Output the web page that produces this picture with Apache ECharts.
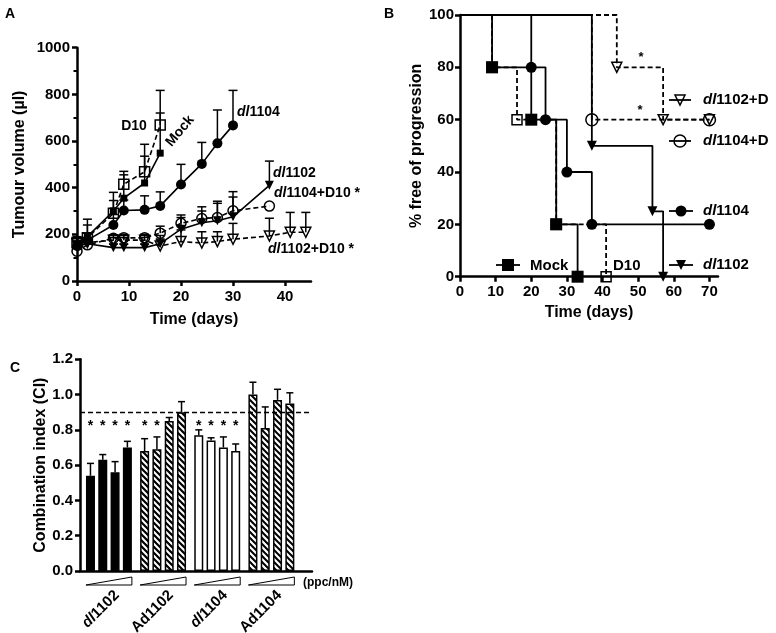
<!DOCTYPE html>
<html>
<head>
<meta charset="utf-8">
<script src="https://cdn.jsdelivr.net/npm/echarts@6.0.0/dist/echarts.min.js"></script>
<style>
html,body{margin:0;padding:0;background:#fff;}
#chart{width:776px;height:633px;}
</style>
</head>
<body>
<div id="chart"></div>
<script>
// ================= Panel A : tumour volume (µl) vs time (days) =================
const aDaysMock = [0, 2, 7, 9, 13, 16];
const aMock = [160, 190, 300, 355, 420, 548];
const aMockErr = [25, 75, 45, 100, 115, 172];

const aDaysD10 = [0, 2, 7, 9, 13, 16];
const aD10 = [165, 185, 290, 415, 468, 669];
const aD10Err = [25, 55, 90, 55, 118, 148];

const aDaysDl1104 = [0, 2, 7, 9, 13, 16, 20, 24, 27, 30];
const aDl1104 = [150, 175, 240, 302, 305, 322, 414, 502, 590, 667];
const aDl1104Err = [20, 30, 45, 45, 60, 60, 86, 92, 143, 150];

const aDaysDl1102 = [0, 2, 7, 9, 13, 16, 20, 24, 27, 30, 37];
const aDl1102 = [150, 160, 143, 143, 143, 160, 222, 250, 258, 275, 410];
const aDl1102Err = [15, 20, 15, 15, 15, 20, 50, 50, 75, 85, 104];

const aDaysDl1104D10 = [0, 2, 7, 9, 13, 16, 20, 24, 27, 30, 37];
const aDl1104D10 = [128, 155, 183, 185, 185, 205, 247, 268, 272, 301, 321];
const aDl1104D10Err = [15, 15, 15, 15, 15, 30, 36, 50, 70, 82, 0];

const aDaysDl1102D10 = [0, 2, 7, 9, 13, 16, 20, 24, 27, 30, 37, 41, 44];
const aDl1102D10 = [160, 165, 175, 175, 175, 150, 169, 163, 169, 179, 193, 209, 209];
const aDl1102D10Err = [10, 10, 12, 12, 12, 45, 50, 48, 42, 68, 76, 85, 85];

const aXTicks = [0, 10, 20, 30, 40];

// ================= Panel B : % free of progression (Kaplan-Meier) =================
const bMockT = [0, 9, 20, 27, 33];
const bMockS = [100, 80, 60, 20, 0];
const bD10T = [0, 9, 16, 27, 41];
const bD10S = [100, 80, 60, 20, 0];
const bDl1104T = [0, 20, 24, 30, 37, 70];
const bDl1104S = [100, 80, 60, 40, 20, 20];
const bDl1102T = [0, 37, 54, 57];
const bDl1102S = [100, 50, 25, 0];
const bDl1104D10T = [0, 37, 70];
const bDl1104D10S = [100, 60, 60];
const bDl1102D10T = [0, 44, 57, 70];
const bDl1102D10S = [100, 80, 60, 60];
const bXTicks = [0, 10, 20, 30, 40, 50, 60, 70];

// ================= Panel C : combination index =================
const cGroups = ['dl1102', 'Ad1102', 'dl1104', 'Ad1104'];
const cDl1102 = [0.54, 0.63, 0.56, 0.70];
const cDl1102Err = [0.07, 0.03, 0.06, 0.035];
const cAd1102 = [0.68, 0.69, 0.85, 0.90];
const cAd1102Err = [0.07, 0.07, 0.02, 0.06];
const cDl1104 = [0.77, 0.74, 0.70, 0.68];
const cDl1104Err = [0.03, 0.015, 0.06, 0.04];
const cAd1104 = [1.00, 0.81, 0.97, 0.95];
const cAd1104Err = [0.07, 0.12, 0.06, 0.06];
const cSigDl1102 = [1, 1, 1, 1];
const cSigAd1102 = [1, 1, 0, 0];
const cSigDl1104 = [1, 1, 1, 1];
const cSigAd1104 = [0, 0, 0, 0];
const cThreshold = 0.9;
const cSigLevel = 0.82;

// ---------------------------------------------------------------------------
const FONT = '"Liberation Sans", Arial, Helvetica, sans-serif';
const lbl = {color: '#000', fontFamily: FONT, fontWeight: 'bold', fontSize: 15};

function hatch(bg, fg) {
  const s = 6;
  const c = document.createElement('canvas');
  c.width = s; c.height = s;
  const x = c.getContext('2d');
  x.fillStyle = bg; x.fillRect(0, 0, s, s);
  x.strokeStyle = fg; x.lineWidth = 2;
  x.beginPath();
  x.moveTo(-1, -1); x.lineTo(s + 1, s + 1);
  x.moveTo(-1, s - 1); x.lineTo(1, s + 1);
  x.moveTo(s - 1, -1); x.lineTo(s + 1, 1);
  x.stroke();
  return c;
}
const cFills = ['#000', {image: hatch('#000', '#fff'), repeat: 'repeat'}, '#fff', {image: hatch('#fff', '#000'), repeat: 'repeat'}];
const cVals = [cDl1102, cAd1102, cDl1104, cAd1104];
const cErrs = [cDl1102Err, cAd1102Err, cDl1104Err, cAd1104Err];
const cSigs = [cSigDl1102, cSigAd1102, cSigDl1104, cSigAd1104];
const xPos = (g, i) => g * 4.4 + i;   // bar slot layout along panel C axis

function errRender(half, lw) {
  return function (params, api) {
    const x = api.value(0), y = api.value(1), e = api.value(2);
    if (!e) return {type: 'group', children: []};
    const a = api.coord([x, y]), b = api.coord([x, y + e]);
    return {type: 'group', children: [
      {type: 'line', shape: {x1: a[0], y1: a[1], x2: b[0], y2: b[1]}, style: {stroke: '#000', lineWidth: lw}},
      {type: 'line', shape: {x1: b[0] - half, y1: b[1], x2: b[0] + half, y2: b[1]}, style: {stroke: '#000', lineWidth: lw}}
    ]};
  };
}
const zip3 = (d, v, e) => d.map((x, i) => [x, v[i], e[i]]);

function lineA(name, days, vals, symbol, size, filled, dashed, rotate) {
  return {
    type: 'line', name, xAxisIndex: 0, yAxisIndex: 0,
    data: days.map((d, i) => [d, vals[i]]),
    symbol, symbolSize: size, symbolRotate: rotate || 0, showAllSymbol: true,
    lineStyle: {color: '#000', width: 1.6, type: dashed ? [5, 3] : 'solid'},
    itemStyle: {color: filled ? '#000' : 'rgba(255,255,255,0)', borderColor: '#000', borderWidth: filled ? 0 : 1.5},
    z: 3, silent: true
  };
}
function kmB(name, t, s, symbol, size, filled, dashed, rotate) {
  return {
    type: 'line', name, xAxisIndex: 1, yAxisIndex: 1, step: 'end',
    data: t.map((x, i) => i === 0 ? {value: [x, s[i]], symbol: 'none'} : [x, s[i]]),
    symbol, symbolSize: size, symbolRotate: rotate || 0, showAllSymbol: true,
    lineStyle: {color: '#000', width: 1.8, type: dashed ? [5, 3] : 'solid'},
    itemStyle: {color: filled ? '#000' : 'rgba(255,255,255,0)', borderColor: '#000', borderWidth: filled ? 0 : 1.5},
    z: 3, silent: true
  };
}

const aErrData = [].concat(
  zip3(aDaysMock, aMock, aMockErr), zip3(aDaysD10, aD10, aD10Err),
  zip3(aDaysDl1104, aDl1104, aDl1104Err), zip3(aDaysDl1102, aDl1102, aDl1102Err),
  zip3(aDaysDl1104D10, aDl1104D10, aDl1104D10Err), zip3(aDaysDl1102D10, aDl1102D10, aDl1102D10Err));

const barData = [], cErrData = [], sigData = [];
cVals.forEach((arr, g) => arr.forEach((v, i) => {
  barData.push({value: [xPos(g, i), v], itemStyle: {color: cFills[g]}});
  cErrData.push([xPos(g, i), v, cErrs[g][i]]);
  if (cSigs[g][i]) sigData.push([xPos(g, i), cSigLevel]);
}));
const groupData = cGroups.map((n, g) => [xPos(g, 0), xPos(g, 3), g]);

const axLine = w => ({show: true, onZero: false, lineStyle: {color: '#000', width: w}});
const tick = (len, w, cv) => ({show: true, length: len, customValues: cv, lineStyle: {color: '#000', width: w}});

const option = {
  animation: false,
  backgroundColor: '#fff',
  grid: [
    {left: 77, top: 47.7, width: 234, height: 233.3},
    {left: 460, top: 15, width: 258, height: 261.7},
    {left: 80, top: 359.3, width: 232, height: 211.7}
  ],
  xAxis: [
    {gridIndex: 0, type: 'value', min: 0, max: 45, interval: 10, axisLine: axLine(2.5),
     axisTick: tick(5, 2.5, aXTicks), axisLabel: Object.assign({}, lbl, {margin: 8, customValues: aXTicks}),
     splitLine: {show: false}, name: 'Time (days)', nameLocation: 'middle', nameGap: 31,
     nameTextStyle: Object.assign({}, lbl, {fontSize: 16})},
    {gridIndex: 1, type: 'value', min: 0, max: 72.4, interval: 10, axisLine: axLine(2.5),
     axisTick: tick(5, 2.5, bXTicks), axisLabel: Object.assign({}, lbl, {margin: 8, customValues: bXTicks}),
     splitLine: {show: false}, name: 'Time (days)', nameLocation: 'middle', nameGap: 28,
     nameTextStyle: Object.assign({}, lbl, {fontSize: 16})},
    {gridIndex: 2, type: 'value', min: -0.85, max: 18.0, axisLine: axLine(2.5),
     axisTick: {show: false}, axisLabel: {show: false}, splitLine: {show: false}}
  ],
  yAxis: [
    {gridIndex: 0, type: 'value', min: 0, max: 1000, interval: 200, axisLine: axLine(2.5),
     axisTick: {show: true, length: 5, lineStyle: {color: '#000', width: 2.5}},
     minorTick: {show: true, splitNumber: 2, length: 3.5, lineStyle: {color: '#000', width: 2}},
     axisLabel: Object.assign({}, lbl, {margin: 7, formatter: v => String(v)}), splitLine: {show: false}, minorSplitLine: {show: false},
     name: 'Tumour volume (µl)', nameLocation: 'middle', nameGap: 49, nameRotate: 90,
     nameTextStyle: Object.assign({}, lbl, {fontSize: 16})},
    {gridIndex: 1, type: 'value', min: 0, max: 100, interval: 20, axisLine: axLine(2.5),
     axisTick: {show: true, length: 5, lineStyle: {color: '#000', width: 2.5}},
     axisLabel: Object.assign({}, lbl, {margin: 6}), splitLine: {show: false},
     name: '% free of progression', nameLocation: 'middle', nameGap: 33, nameRotate: 90,
     nameTextStyle: Object.assign({}, lbl, {fontSize: 16})},
    {gridIndex: 2, type: 'value', min: 0, max: 1.2, interval: 0.2, axisLine: axLine(2.5),
     axisTick: {show: true, length: 5, lineStyle: {color: '#000', width: 2.5}},
     axisLabel: Object.assign({}, lbl, {margin: 7, formatter: v => v.toFixed(1)}), splitLine: {show: false},
     name: 'Combination index (CI)', nameLocation: 'middle', nameGap: 29, nameRotate: 90,
     nameTextStyle: Object.assign({}, lbl, {fontSize: 16})}
  ],
  series: [
    // ---- Panel A
    {type: 'custom', xAxisIndex: 0, yAxisIndex: 0, data: aErrData, renderItem: errRender(4.5, 1.5), clip: false, silent: true, z: 1},
    lineA('D10', aDaysD10, aD10, 'rect', 10, false, true),
    lineA('dl1104+D10', aDaysDl1104D10, aDl1104D10, 'circle', 10, false, true),
    lineA('dl1102+D10', aDaysDl1102D10, aDl1102D10, 'triangle', 10, false, true, 180),
    lineA('Mock', aDaysMock, aMock, 'rect', 7, true, false),
    lineA('dl1104', aDaysDl1104, aDl1104, 'circle', 10, true, false),
    lineA('dl1102', aDaysDl1102, aDl1102, 'triangle', 9, true, false, 180),
    // ---- Panel B
    kmB('D10', bD10T, bD10S, 'rect', 10, false, true),
    kmB('dl1104+D10', bDl1104D10T, bDl1104D10S, 'circle', 12, false, true),
    kmB('dl1102+D10', bDl1102D10T, bDl1102D10S, 'triangle', 10, false, true, 180),
    kmB('Mock', bMockT, bMockS, 'rect', 12, true, false),
    kmB('dl1104', bDl1104T, bDl1104S, 'circle', 11, true, false),
    kmB('dl1102', bDl1102T, bDl1102S, 'triangle', 10, true, false, 180),
    // ---- Panel C
    {type: 'bar', xAxisIndex: 2, yAxisIndex: 2, data: barData, barWidth: 9, silent: true,
     itemStyle: {borderColor: '#000', borderWidth: 1.5},
     markLine: {silent: true, symbol: ['none', 'none'], label: {show: false},
                lineStyle: {color: '#000', type: [5, 3], width: 1.3}, data: [{yAxis: cThreshold}]}},
    {type: 'custom', xAxisIndex: 2, yAxisIndex: 2, data: cErrData, renderItem: errRender(3.5, 1.5), clip: false, silent: true, z: 4},
    {type: 'custom', xAxisIndex: 2, yAxisIndex: 2, data: sigData, clip: false, silent: true, z: 4,
     renderItem: (p, api) => {
       const c = api.coord([api.value(0), api.value(1)]);
       return {type: 'text', x: c[0], y: c[1], style: {text: '*', fill: '#000', fontFamily: FONT, fontWeight: 'bold', fontSize: 14, align: 'center', verticalAlign: 'middle'}};
     }},
    {type: 'custom', xAxisIndex: 2, yAxisIndex: 2, data: groupData, clip: false, silent: true, z: 4,
     renderItem: (p, api) => {
       const a = api.coord([api.value(0), 0]), b = api.coord([api.value(1), 0]);
       const g = api.value(2);
       const L = a[0] - 4.5, R = b[0] + 4.5, y0 = a[1];
       const name = cGroups[g];
       const txt = name.startsWith('dl') ? '{i|dl}{b|' + name.slice(2) + '}' : '{b|' + name + '}';
       return {type: 'group', children: [
         {type: 'polygon', shape: {points: [[L, y0 + 14], [R, y0 + 14], [R, y0 + 6]]}, style: {fill: '#fff', stroke: '#000', lineWidth: 1}},
         {type: 'text', x: (L + R) / 2 + 8, y: y0 + 22, rotation: Math.PI / 4,
          style: {text: txt, align: 'right', verticalAlign: 'middle', fill: '#000',
                  rich: {i: {fontFamily: FONT, fontWeight: 'bold', fontStyle: 'italic', fontSize: 15, fill: '#000'},
                         b: {fontFamily: FONT, fontWeight: 'bold', fontSize: 15, fill: '#000'}}}}
       ]};
     }}
  ],
  graphic: []
};

const richTxt = {
  i: {fontFamily: FONT, fontWeight: 'bold', fontStyle: 'italic', fontSize: 14, fill: '#000'},
  b: {fontFamily: FONT, fontWeight: 'bold', fontSize: 14, fill: '#000'}
};
function gText(x, y, text, opts) {
  opts = opts || {};
  const fs = opts.fs || 14;
  return {type: 'text', x, y, rotation: opts.rot || 0, z: 10,
          style: {text, align: opts.align || 'left', verticalAlign: 'middle', fill: '#000',
                  fontFamily: FONT, fontWeight: 'bold', fontSize: fs,
                  rich: {i: Object.assign({}, richTxt.i, {fontSize: fs}), b: Object.assign({}, richTxt.b, {fontSize: fs})}}};
}
const G = option.graphic;
// panel letters
G.push(gText(10, 14, 'A', {align: 'center'}), gText(389, 14, 'B', {align: 'center'}), gText(15, 368, 'C', {align: 'center'}));
// panel A annotations
G.push(gText(134, 126, 'D10', {align: 'center'}));
G.push(gText(180, 131, 'Mock', {align: 'center', rot: 50 * Math.PI / 180}));
G.push(gText(237, 112, '{i|dl}{b|1104}'));
G.push(gText(273, 173, '{i|dl}{b|1102}'));
G.push(gText(274, 193, '{i|dl}{b|1104+D10 *}'));
G.push(gText(268, 249, '{i|dl}{b|1102+D10 *}'));
// panel B asterisks
G.push(gText(641, 57, '*', {align: 'center', fs: 13}), gText(640, 110, '*', {align: 'center', fs: 13}));
// panel B legend
function legLine(x1, x2, y, dashed) {
  return {type: 'line', z: 10, shape: {x1, y1: y, x2, y2: y}, style: {stroke: '#000', lineWidth: 1.8, lineDash: dashed ? [4, 3] : null}};
}
function downTri(cx, cy, s, filled) {
  return {type: 'polygon', z: 11, shape: {points: [[cx - s / 2, cy - s / 2], [cx + s / 2, cy - s / 2], [cx, cy + s / 2]]},
          style: {fill: filled ? '#000' : 'rgba(255,255,255,0)', stroke: '#000', lineWidth: filled ? 0 : 1.5}};
}
G.push(legLine(669, 691, 100, false), downTri(680, 100, 10, false), gText(703, 100, '{i|dl}{b|1102+D}', {fs: 15}));
G.push(legLine(669, 691, 141, false),
       {type: 'circle', z: 11, shape: {cx: 680, cy: 141, r: 6}, style: {fill: 'rgba(255,255,255,0)', stroke: '#000', lineWidth: 1.5}},
       gText(703, 141, '{i|dl}{b|1104+D}', {fs: 15}));
G.push(legLine(669, 693, 211, false),
       {type: 'circle', z: 11, shape: {cx: 681, cy: 211, r: 5.5}, style: {fill: '#000'}},
       gText(703, 211, '{i|dl}{b|1104}', {fs: 15}));
G.push(legLine(669, 693, 265, false), downTri(681, 265, 10, true), gText(703, 265, '{i|dl}{b|1102}', {fs: 15}));
G.push(legLine(496, 520, 265, false),
       {type: 'rect', z: 11, shape: {x: 502, y: 259, width: 12, height: 12}, style: {fill: '#000'}},
       gText(530, 266, 'Mock', {fs: 15}));
G.push(gText(613, 266, 'D10', {fs: 15}));
// panel C unit
G.push(gText(303, 583, '(ppc/nM)', {fs: 12}));

const chart = echarts.init(document.getElementById('chart'), null, {renderer: 'canvas'});
chart.setOption(option);
</script>
</body>
</html>
